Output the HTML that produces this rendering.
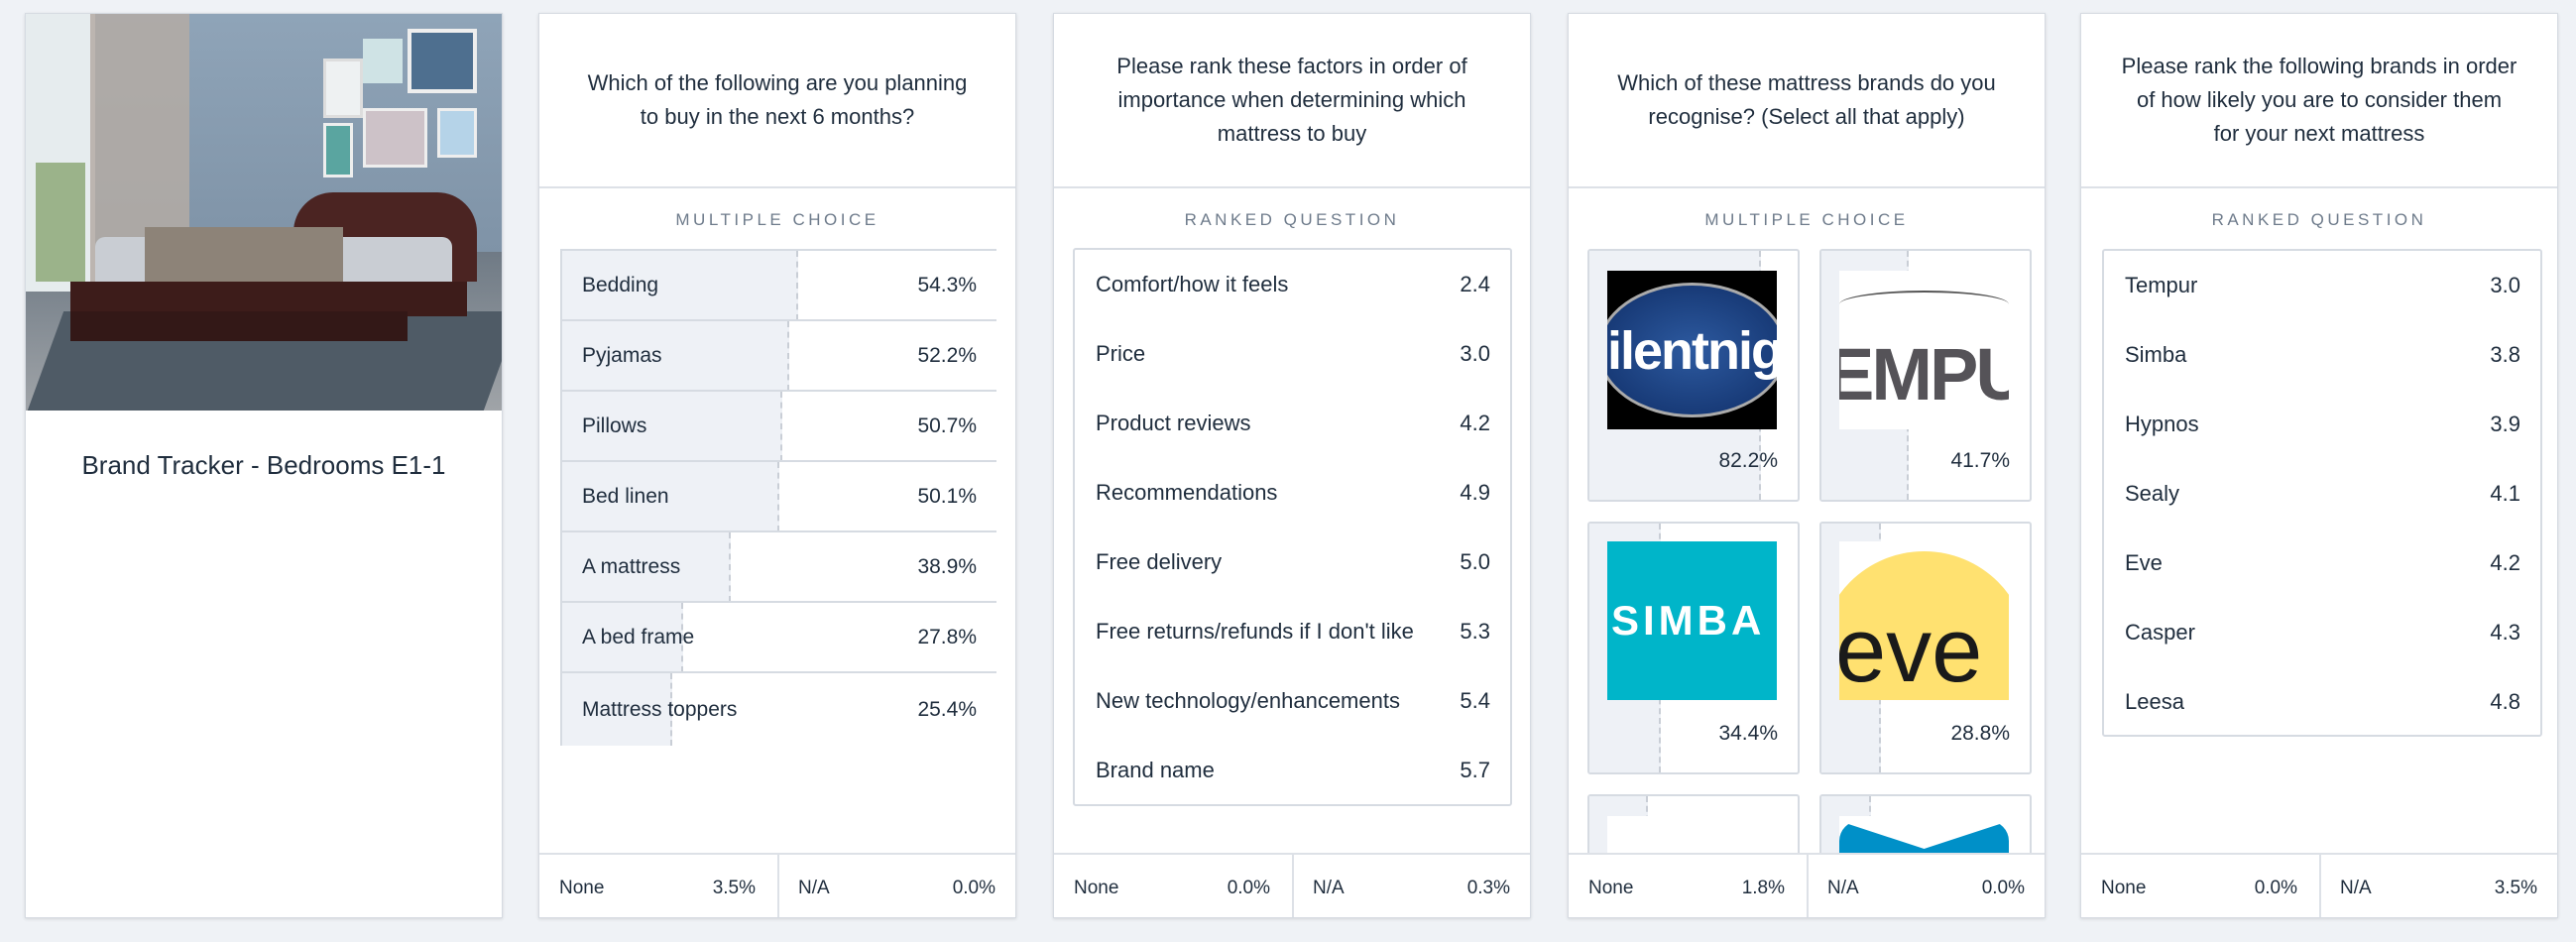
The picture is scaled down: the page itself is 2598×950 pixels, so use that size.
<!DOCTYPE html><html><head><style>
*{box-sizing:border-box;margin:0;padding:0}
html,body{width:2598px;height:950px;overflow:hidden}
body{background:#eff2f6;font-family:"Liberation Sans",sans-serif;color:#1f2d3d;position:relative}
.card{position:absolute;top:13px;width:482px;height:913px;background:#fff;border:1px solid #d6dbe2;box-shadow:0 1px 3px rgba(0,0,0,.12);overflow:hidden}
.q{position:absolute;left:0;top:0;width:100%;height:176px;border-bottom:2px solid #dde1e7;display:flex;align-items:center;justify-content:center;text-align:center;font-size:22px;line-height:34px;padding:0 30px}
.lab{position:absolute;top:198px;width:100%;text-align:center;font-size:17px;letter-spacing:3.5px;color:#6e7b8b}
.foot{position:absolute;left:0;top:846px;width:100%;height:67px;border-top:2px solid #dde1e7;font-size:19px;background:#fff}
.foot div{position:absolute;top:0;height:67px;line-height:67px}
.ab{position:absolute}
.row{position:absolute;left:0;width:100%;border-top:2px solid #d6dbe2;font-size:21px}
.row .b{position:absolute;left:0;top:0;bottom:0;background:#eef1f6;border-right:2px dashed #c9ced6}
.row .t{position:absolute;left:20px;top:0;bottom:0;display:flex;align-items:center}
.row .v{position:absolute;right:20px;top:0;bottom:0;display:flex;align-items:center}
.rk{position:absolute;border:2px solid #d6dbe2;border-radius:3px}
.rr{position:absolute;left:0;width:100%;height:70px;font-size:22px}
.rr span{position:absolute;top:0;line-height:70px}
.tile{position:absolute;width:214px;height:255px;border:2px solid #d6dbe2;border-radius:3px;overflow:hidden;background:#fff}
.tile .b{position:absolute;left:0;top:0;bottom:0;background:#eef1f6;border-right:2px dashed #c9ced6}
.tile .logo{position:absolute;left:18px;top:20px;width:171px;height:160px;overflow:hidden}
.tile .p{position:absolute;right:20px;top:200px;font-size:21px}
</style></head><body>

<!-- card 1 -->
<div class="card" style="left:25px">
 <div class="ab" style="left:0;top:0;width:480px;height:400px;background:linear-gradient(#8fa4b8,#7f93a7 60%,#6f7a85 60%,#a0a4a8);overflow:hidden">
  <div class="ab" style="left:0;top:0;width:70px;height:280px;background:#e6ecee"></div>
  <div class="ab" style="left:10px;top:150px;width:50px;height:120px;background:#9bb38a"></div>
  <div class="ab" style="left:65px;top:0;width:100px;height:310px;background:#b4aca4;opacity:.85"></div>
  <div class="ab" style="left:300px;top:45px;width:40px;height:60px;background:#eef1f2;border:3px solid #ddd"></div>
  <div class="ab" style="left:340px;top:25px;width:40px;height:45px;background:#cfe3e5"></div>
  <div class="ab" style="left:385px;top:15px;width:70px;height:65px;background:#4e6f8f;border:4px solid #eee"></div>
  <div class="ab" style="left:300px;top:110px;width:30px;height:55px;background:#5aa5a0;border:3px solid #eee"></div>
  <div class="ab" style="left:340px;top:95px;width:65px;height:60px;background:#cdc2c8;border:3px solid #eee"></div>
  <div class="ab" style="left:415px;top:95px;width:40px;height:50px;background:#b5d3e8;border:3px solid #eee"></div>
  <div class="ab" style="left:20px;top:300px;width:460px;height:100px;background:#4f5b66;transform:skewX(-20deg)"></div>
  <div class="ab" style="left:270px;top:180px;width:185px;height:90px;background:#4b2422;border-radius:40px 40px 0 0"></div>
  <div class="ab" style="left:70px;top:225px;width:360px;height:70px;background:#c9cdd3;border-radius:10px"></div>
  <div class="ab" style="left:120px;top:215px;width:200px;height:70px;background:#8d8378"></div>
  <div class="ab" style="left:45px;top:270px;width:400px;height:35px;background:#3d1c1a"></div>
  <div class="ab" style="left:45px;top:300px;width:340px;height:30px;background:#331817"></div>
 </div>
 <div class="ab" style="left:0;top:440px;width:100%;text-align:center;font-size:26px">Brand Tracker - Bedrooms E1-1</div>
</div>

<!-- card 2 -->
<div class="card" style="left:543px">
 <div class="q">Which of the following are you planning<br>to buy in the next 6 months?</div>
 <div class="lab">MULTIPLE CHOICE</div>
 <div class="ab" style="left:21px;top:237px;width:440px;height:501px;border-left:2px solid #d6dbe2;overflow:hidden">
  <div class="row" style="top:0;height:72px"><div class="b" style="width:54.3%"></div><div class="t">Bedding</div><div class="v">54.3%</div></div>
  <div class="row" style="top:71px;height:72px"><div class="b" style="width:52.2%"></div><div class="t">Pyjamas</div><div class="v">52.2%</div></div>
  <div class="row" style="top:142px;height:72px"><div class="b" style="width:50.7%"></div><div class="t">Pillows</div><div class="v">50.7%</div></div>
  <div class="row" style="top:213px;height:72px"><div class="b" style="width:50.1%"></div><div class="t">Bed linen</div><div class="v">50.1%</div></div>
  <div class="row" style="top:284px;height:72px"><div class="b" style="width:38.9%"></div><div class="t">A mattress</div><div class="v">38.9%</div></div>
  <div class="row" style="top:355px;height:72px"><div class="b" style="width:27.8%"></div><div class="t">A bed frame</div><div class="v">27.8%</div></div>
  <div class="row" style="top:426px;height:75px"><div class="b" style="width:25.4%"></div><div class="t">Mattress toppers</div><div class="v">25.4%</div></div>
 </div>
 <div class="foot"><div style="left:20px">None</div><div style="right:262px">3.5%</div><div style="left:240px;width:2px;background:#dde1e7"></div><div style="left:261px">N/A</div><div style="right:20px">0.0%</div></div>
</div>

<!-- card 3 -->
<div class="card" style="left:1062px">
 <div class="q">Please rank these factors in order of<br>importance when determining which<br>mattress to buy</div>
 <div class="lab">RANKED QUESTION</div>
 <div class="rk" style="left:19px;top:236px;width:443px;height:563px">
  <div class="rr" style="top:0"><span style="left:21px">Comfort/how it feels</span><span style="right:20px">2.4</span></div>
  <div class="rr" style="top:70px"><span style="left:21px">Price</span><span style="right:20px">3.0</span></div>
  <div class="rr" style="top:140px"><span style="left:21px">Product reviews</span><span style="right:20px">4.2</span></div>
  <div class="rr" style="top:210px"><span style="left:21px">Recommendations</span><span style="right:20px">4.9</span></div>
  <div class="rr" style="top:280px"><span style="left:21px">Free delivery</span><span style="right:20px">5.0</span></div>
  <div class="rr" style="top:350px"><span style="left:21px">Free returns/refunds if I don't like</span><span style="right:20px">5.3</span></div>
  <div class="rr" style="top:420px"><span style="left:21px">New technology/enhancements</span><span style="right:20px">5.4</span></div>
  <div class="rr" style="top:490px"><span style="left:21px">Brand name</span><span style="right:20px">5.7</span></div>
 </div>
 <div class="foot"><div style="left:20px">None</div><div style="right:262px">0.0%</div><div style="left:240px;width:2px;background:#dde1e7"></div><div style="left:261px">N/A</div><div style="right:20px">0.3%</div></div>
</div>

<!-- card 4 -->
<div class="card" style="left:1581px">
 <div class="q">Which of these mattress brands do you<br>recognise? (Select all that apply)</div>
 <div class="lab">MULTIPLE CHOICE</div>
 <div class="tile" style="left:19px;top:237px"><div class="b" style="width:82.2%"></div>
  <div class="logo" style="background:#000"><div class="ab" style="left:-10px;top:12px;width:191px;height:136px;border-radius:50%;background:radial-gradient(#2d5aa0,#0f2d66);border:3px solid #aaa"></div><div class="ab" style="left:0;top:50px;color:#fff;font-size:54px;font-weight:bold;letter-spacing:-2px">ilentnigh</div></div>
  <div class="p">82.2%</div></div>
 <div class="tile" style="left:253px;top:237px"><div class="b" style="width:41.7%"></div>
  <div class="logo" style="background:#fff"><div class="ab" style="left:0;top:20px;width:171px;height:28px;border-top:2px solid #555;border-radius:50%"></div><div class="ab" style="left:-14px;top:62px;color:#555358;font-size:74px;font-weight:bold;letter-spacing:-3px">EMPU</div></div>
  <div class="p">41.7%</div></div>
 <div class="tile" style="left:19px;top:512px"><div class="b" style="width:34.4%"></div>
  <div class="logo" style="background:#00b5c9;top:18px"><div class="ab" style="left:4px;top:56px;color:#fff;font-size:42px;font-weight:bold;letter-spacing:4px">SIMBA</div></div>
  <div class="p" style="top:200px">34.4%</div></div>
 <div class="tile" style="left:253px;top:512px"><div class="b" style="width:28.8%"></div>
  <div class="logo" style="background:#fff;top:18px"><div class="ab" style="left:-20px;top:10px;width:211px;height:211px;border-radius:50%;background:#ffe170"></div><div class="ab" style="left:-4px;top:60px;color:#1a1a1a;font-size:92px;line-height:100px">eve</div></div>
  <div class="p" style="top:200px">28.8%</div></div>
 <div class="tile" style="left:19px;top:787px"><div class="b" style="width:28%"></div><div class="logo" style="background:#fff;top:20px"></div></div>
 <div class="tile" style="left:253px;top:787px"><div class="b" style="width:24%"></div><div class="logo" style="background:#fff;top:20px"><div class="ab" style="left:0;top:5px;width:171px;height:40px;background:#0090c8;border-radius:20px 20px 0 0;clip-path:polygon(0 0,50% 70%,100% 0,100% 100%,0 100%)"></div></div></div>
 <div class="foot"><div style="left:20px">None</div><div style="right:262px">1.8%</div><div style="left:240px;width:2px;background:#dde1e7"></div><div style="left:261px">N/A</div><div style="right:20px">0.0%</div></div>
</div>

<!-- card 5 -->
<div class="card" style="left:2098px">
 <div class="q">Please rank the following brands in order<br>of how likely you are to consider them<br>for your next mattress</div>
 <div class="lab">RANKED QUESTION</div>
 <div class="rk" style="left:21px;top:237px;width:444px;height:492px">
  <div class="rr" style="top:0"><span style="left:21px">Tempur</span><span style="right:20px">3.0</span></div>
  <div class="rr" style="top:70px"><span style="left:21px">Simba</span><span style="right:20px">3.8</span></div>
  <div class="rr" style="top:140px"><span style="left:21px">Hypnos</span><span style="right:20px">3.9</span></div>
  <div class="rr" style="top:210px"><span style="left:21px">Sealy</span><span style="right:20px">4.1</span></div>
  <div class="rr" style="top:280px"><span style="left:21px">Eve</span><span style="right:20px">4.2</span></div>
  <div class="rr" style="top:350px"><span style="left:21px">Casper</span><span style="right:20px">4.3</span></div>
  <div class="rr" style="top:420px"><span style="left:21px">Leesa</span><span style="right:20px">4.8</span></div>
 </div>
 <div class="foot"><div style="left:20px">None</div><div style="right:262px">0.0%</div><div style="left:240px;width:2px;background:#dde1e7"></div><div style="left:261px">N/A</div><div style="right:20px">3.5%</div></div>
</div>
</body></html>
